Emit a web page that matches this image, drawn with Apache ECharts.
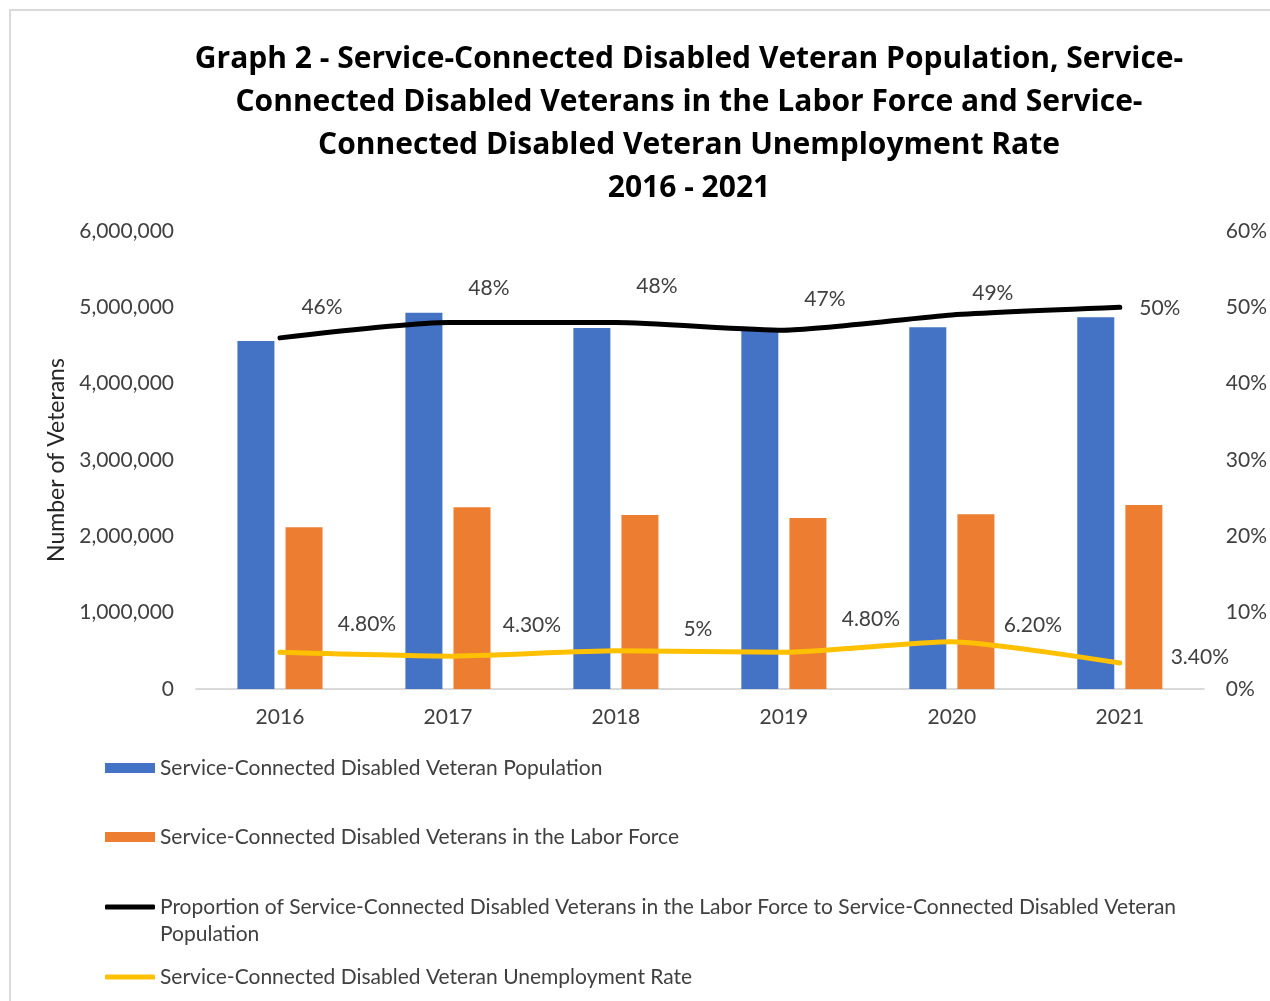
<!DOCTYPE html>
<html>
<head>
<meta charset="utf-8">
<script src="https://cdn.jsdelivr.net/npm/echarts@6/dist/echarts.min.js"></script>
<style>
html,body{margin:0;padding:0;background:#fff;}
#chart{width:1270px;height:1001px;}
</style>
</head>
<body>
<div id="chart"></div>
<script>
const years = ['2016', '2017', '2018', '2019', '2020', '2021'];
const population = [4560000, 4930000, 4730000, 4690000, 4740000, 4870000];
const laborForce = [2120000, 2380000, 2280000, 2240000, 2290000, 2410000];
const proportion = [46, 48, 48, 47, 49, 50];
const unemployment = [4.8, 4.3, 5, 4.8, 6.2, 3.4];
const leftTicks = [0, 1000000, 2000000, 3000000, 4000000, 5000000, 6000000];
const rightTicks = [0, 10, 20, 30, 40, 50, 60];

const names = [
  'Service-Connected Disabled Veteran Population',
  'Service-Connected Disabled Veterans in the Labor Force',
  'Proportion of Service-Connected Disabled Veterans in the Labor Force to Service-Connected Disabled Veteran Population',
  'Service-Connected Disabled Veteran Unemployment Rate'
];

// label placement (style only)
const propLabelOffsets = [[42,-31],[41,-34],[41,-36],[41,-31],[41,-22],[40,1]];
const unempLabelOffsets = [[87,-28],[84,-31],[82,-22],[87,-33],[81,-16],[80,-6]];

const FONT = 'Lato';
const FS = 21;
const fmtPct = v => (Number.isInteger(v) ? v : v.toFixed(2)) + '%';

const chart = echarts.init(document.getElementById('chart'), null, {renderer: 'canvas'});

function legendAt(top, name, icon, w, h, formatter) {
  return {
    data: [{name: name, icon: icon}],
    left: 105, top: top, padding: 0,
    orient: 'vertical',
    itemWidth: w, itemHeight: h,
    selectedMode: false,
    formatter: formatter || '{name}',
    textStyle: {fontFamily: FONT, fontSize: FS, color: '#404040', lineHeight: 24}
  };
}

const option = {
  backgroundColor: '#fff',
  animation: false,
  title: {
    text: 'Graph 2 - Service-Connected Disabled Veteran Population, Service-\nConnected Disabled Veterans in the Labor Force and Service-\nConnected Disabled Veteran Unemployment Rate\n2016 - 2021',
    left: 689, top: 38, padding: 0, textAlign: 'center',
    textStyle: {fontFamily: 'Open Sans', fontWeight: 'bold', fontSize: 30, lineHeight: 43, color: '#000'}
  },
  graphic: [
    {type: 'rect', shape: {x: 10, y: 10, width: 1300, height: 1100}, style: {fill: 'none', stroke: '#d9d9d9', lineWidth: 2}, silent: true},
    {type: 'text', left: 160, top: 924, style: {text: 'Population', fontFamily: FONT, fontSize: FS, fill: '#404040'}}
  ],
  legend: [
    legendAt(756, names[0], 'rect', 50, 10),
    legendAt(825, names[1], 'rect', 50, 10),
    legendAt(895, names[2], 'roundRect', 50, 5, () => 'Proportion of Service-Connected Disabled Veterans in the Labor Force to Service-Connected Disabled Veteran'),
    legendAt(965, names[3], 'roundRect', 50, 5)
  ],
  grid: {left: 196, right: 66, top: 231, bottom: 312, containLabel: false},
  xAxis: {
    type: 'category',
    data: years,
    axisLine: {lineStyle: {color: '#d9d9d9', width: 2}},
    axisTick: {show: false},
    axisLabel: {fontFamily: FONT, fontSize: FS, color: '#404040', margin: 18}
  },
  yAxis: [
    {
      type: 'value', min: leftTicks[0], max: leftTicks[leftTicks.length - 1], interval: leftTicks[1] - leftTicks[0],
      name: 'Number of Veterans', nameLocation: 'middle', nameGap: 124,
      nameTextStyle: {fontFamily: FONT, fontSize: 23, color: '#262626'},
      splitLine: {show: false},
      axisLine: {show: false}, axisTick: {show: false},
      axisLabel: {fontFamily: FONT, fontSize: FS, color: '#404040', margin: 22,
        formatter: v => v.toLocaleString('en-US')}
    },
    {
      type: 'value', min: rightTicks[0], max: rightTicks[rightTicks.length - 1], interval: rightTicks[1] - rightTicks[0],
      splitLine: {show: false},
      axisLine: {show: false}, axisTick: {show: false},
      axisLabel: {fontFamily: FONT, fontSize: FS, color: '#404040', margin: 22, formatter: '{value}%'}
    }
  ],
  series: [
    {
      name: names[0], type: 'bar', yAxisIndex: 0, data: population,
      barWidth: 37, barGap: '30%',
      itemStyle: {color: '#4472C4'}
    },
    {
      name: names[1], type: 'bar', yAxisIndex: 0, data: laborForce,
      barWidth: 37,
      itemStyle: {color: '#ED7D31'}
    },
    {
      name: names[2], type: 'line', yAxisIndex: 1,
      data: proportion.map((v, i) => ({value: v, label: {offset: propLabelOffsets[i]}})),
      smooth: 0.2, symbol: 'circle', symbolSize: 0.1, showSymbol: true,
      lineStyle: {color: '#000', width: 5, cap: 'round', join: 'round'},
      itemStyle: {color: '#000'},
      label: {show: true, position: 'inside', fontFamily: FONT, fontSize: FS, color: '#404040',
        formatter: p => fmtPct(p.value)},
      z: 5
    },
    {
      name: names[3], type: 'line', yAxisIndex: 1,
      data: unemployment.map((v, i) => ({value: v, label: {offset: unempLabelOffsets[i]}})),
      smooth: 0.2, symbol: 'circle', symbolSize: 0.1, showSymbol: true,
      lineStyle: {color: '#FFC000', width: 5, cap: 'round', join: 'round'},
      itemStyle: {color: '#FFC000'},
      label: {show: true, position: 'inside', fontFamily: FONT, fontSize: FS, color: '#404040',
        formatter: p => fmtPct(p.value)},
      z: 5
    }
  ]
};
chart.setOption(option);
</script>
</body>
</html>
